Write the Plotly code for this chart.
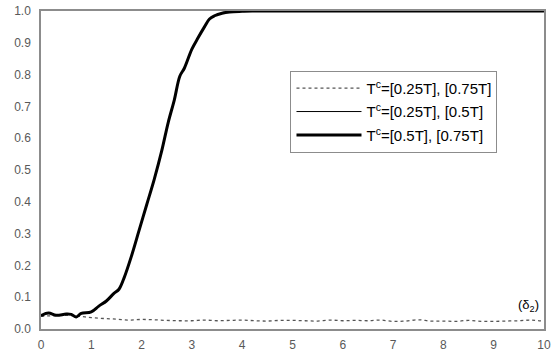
import plotly.graph_objects as go

# Thick curve: T^c=[0.5T], [0.75T]
x_thick = [0, 0.15, 0.3, 0.5, 0.6, 0.7, 0.8, 1.0, 1.15, 1.3, 1.45, 1.55, 1.65, 1.8, 1.95,
           2.1, 2.25, 2.4, 2.53, 2.65, 2.76, 2.85, 3.0, 3.12, 3.25, 3.35, 3.45, 3.6,
           3.75, 4.0, 4.2, 5, 6, 7, 8, 9, 10]
y_thick = [0.042, 0.050, 0.043, 0.047, 0.046, 0.038, 0.049, 0.054, 0.072, 0.088, 0.112, 0.125,
           0.16, 0.23, 0.31, 0.39, 0.47, 0.56, 0.65, 0.72, 0.795, 0.82, 0.88, 0.915,
           0.95, 0.975, 0.985, 0.993, 0.997, 0.999, 1.0, 1.0, 1.0, 1.0, 1.0, 1.0, 1.0]

# Thin solid curve: T^c=[0.25T], [0.5T] (hidden beneath the thick curve)
x_thin = x_thick
y_thin = y_thick

# Dotted curve: T^c=[0.25T], [0.75T]
x_dot = [i * 0.25 for i in range(41)]
y_dot = [0.040, 0.042, 0.043, 0.040, 0.036, 0.033, 0.031, 0.028, 0.030, 0.029, 0.027,
         0.026, 0.026, 0.028, 0.026, 0.027, 0.028, 0.026, 0.025, 0.027, 0.027, 0.026,
         0.025, 0.028, 0.026, 0.027, 0.026, 0.028, 0.024, 0.025, 0.029, 0.025, 0.025,
         0.024, 0.027, 0.024, 0.024, 0.025, 0.026, 0.028, 0.024]

names = ["T<sup>c</sup>=[0.25T], [0.75T]", "T<sup>c</sup>=[0.25T], [0.5T]", "T<sup>c</sup>=[0.5T], [0.75T]"]

fig = go.Figure()
fig.add_trace(go.Scatter(x=x_dot, y=y_dot, mode="lines", name=names[0],
                         line=dict(color="#555555", width=1.3, dash="dot", shape="spline")))
fig.add_trace(go.Scatter(x=x_thin, y=y_thin, mode="lines", name=names[1],
                         line=dict(color="#000000", width=1, shape="spline")))
fig.add_trace(go.Scatter(x=x_thick, y=y_thick, mode="lines", name=names[2],
                         line=dict(color="#000000", width=3, shape="spline")))

axis_common = dict(showline=True, mirror=True, linecolor="#8c8c8c", linewidth=1.5,
                   showgrid=False, zeroline=False, ticks="outside",
                   tickcolor="rgba(0,0,0,0)",
                   tickfont=dict(family="Liberation Sans, Arial", size=12, color="#595959"))

fig.update_layout(
    width=553, height=356,
    margin=dict(l=41, r=2, t=11, b=27),
    paper_bgcolor="white", plot_bgcolor="white",
    showlegend=True,
    legend=dict(x=0.496, y=0.812, xanchor="left", yanchor="top",
                bordercolor="#8c8c8c", borderwidth=1, bgcolor="white",
                font=dict(family="Liberation Sans, Arial", size=15, color="#000000"),
                itemwidth=65, tracegroupgap=1),
    xaxis=dict(range=[0, 10.001], dtick=1, ticklen=4, ticklabeloverflow="allow", **axis_common),
    yaxis=dict(range=[0, 1], dtick=0.1, tickformat=".1f", ticklen=6, **axis_common),
    annotations=[dict(x=0.969, y=0.075, xref="paper", yref="paper",
                      xanchor="center", yanchor="middle",
                      text="(δ<sub>2</sub>)", showarrow=False,
                      font=dict(family="Liberation Sans, Arial", size=13, color="#000000"))],
)
for i, tr in enumerate(fig.data):
    tr.legendgroup = f"g{i}"

fig.write_html("out.html")
